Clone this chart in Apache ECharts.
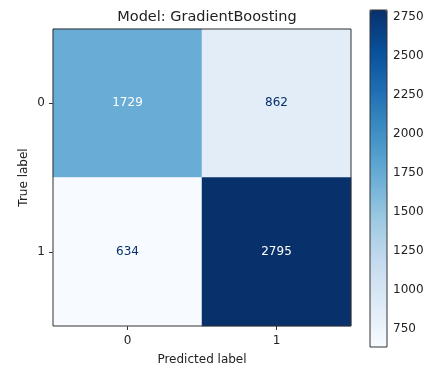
<!DOCTYPE html>
<html>
<head>
<meta charset="utf-8">
<script src="https://cdn.jsdelivr.net/npm/echarts@6/dist/echarts.min.js"></script>
<style>
html, body { margin: 0; padding: 0; background: #fff; }
#chart { width: 432px; height: 372px; }
</style>
</head>
<body>
<div id="chart"></div>
<script>
const predictedLabels = ['0', '1'];
const trueLabels = ['0', '1'];
// rows = true label, cols = predicted label
const counts = [
  [1729, 862],
  [634, 2795]
];
const colorbarTicks = [750, 1000, 1250, 1500, 1750, 2000, 2250, 2500, 2750];
const blues = ['#f7fbff', '#deebf7', '#c6dbef', '#9ecae1', '#6baed6', '#4292c6', '#2171b5', '#08519c', '#08306b'];

const flat = counts.flat();
const vmin = Math.min(...flat);
const vmax = Math.max(...flat);

const cells = [];
counts.forEach((row, i) => {
  row.forEach((v, j) => {
    const dark = (v - vmin) / (vmax - vmin) > 0.5;
    cells.push({
      value: [j, i, v],
      label: { color: dark ? '#ffffff' : '#08306b' }
    });
  });
});

const font = 'DejaVu Sans';
const textColor = '#222';

const option = {
  animation: false,
  textStyle: { fontFamily: font },
  title: {
    text: 'Model: GradientBoosting',
    left: 202,
    textAlign: 'center',
    top: 5,
    textStyle: { fontSize: 14.5, fontWeight: 'normal', color: textColor, fontFamily: font }
  },
  grid: [
    {
      left: 53, top: 29, width: 298, height: 297,
      show: true, z: 10,
      backgroundColor: 'transparent',
      borderColor: '#333', borderWidth: 1
    },
    {
      left: 370, top: 10, width: 17, height: 337,
      show: true, z: 10,
      backgroundColor: 'transparent',
      borderColor: '#333', borderWidth: 1
    }
  ],
  xAxis: [
    {
      type: 'category',
      gridIndex: 0,
      data: predictedLabels,
      name: 'Predicted label',
      nameLocation: 'middle',
      nameGap: 28,
      nameMoveOverlap: false,
      nameTextStyle: { fontSize: 12, color: textColor },
      axisLine: { show: false },
      axisTick: { show: true, alignWithLabel: true, length: 4, lineStyle: { color: '#333' } },
      axisLabel: { fontSize: 12, color: textColor, margin: 9 },
      splitLine: { show: false }
    },
    {
      type: 'value',
      gridIndex: 1,
      show: false
    }
  ],
  yAxis: [
    {
      type: 'category',
      gridIndex: 0,
      inverse: true,
      data: trueLabels,
      name: 'True label',
      nameLocation: 'middle',
      nameGap: 23,
      nameMoveOverlap: false,
      nameRotate: 90,
      nameTextStyle: { fontSize: 12, color: textColor },
      axisLine: { show: false },
      axisTick: { show: true, alignWithLabel: true, length: 4, lineStyle: { color: '#333' } },
      axisLabel: { fontSize: 12, color: textColor, margin: 8 },
      splitLine: { show: false }
    },
    {
      type: 'value',
      gridIndex: 1,
      position: 'right',
      min: vmin,
      max: vmax,
      axisLine: { show: false },
      axisTick: { show: true, length: 4, lineStyle: { color: '#333' }, customValues: colorbarTicks },
      axisLabel: {
        fontSize: 12, color: textColor, margin: 6, customValues: colorbarTicks,
        formatter: (v) => String(v)
      },
      splitLine: { show: false }
    }
  ],
  visualMap: {
    type: 'continuous',
    seriesIndex: 0,
    min: vmin,
    max: vmax,
    calculable: false,
    hoverLink: false,
    left: 370,
    top: 10,
    itemWidth: 17,
    itemHeight: 337,
    padding: 0,
    text: null,
    showLabel: false,
    inRange: { color: blues }
  },
  series: [
    {
      type: 'heatmap',
      xAxisIndex: 0,
      yAxisIndex: 0,
      data: cells,
      label: {
        show: true,
        fontSize: 12,
        fontFamily: font,
        formatter: (p) => String(p.value[2])
      },
      emphasis: { disabled: true }
    }
  ]
};

const chart = echarts.init(document.getElementById('chart'));
chart.setOption(option);
</script>
</body>
</html>
